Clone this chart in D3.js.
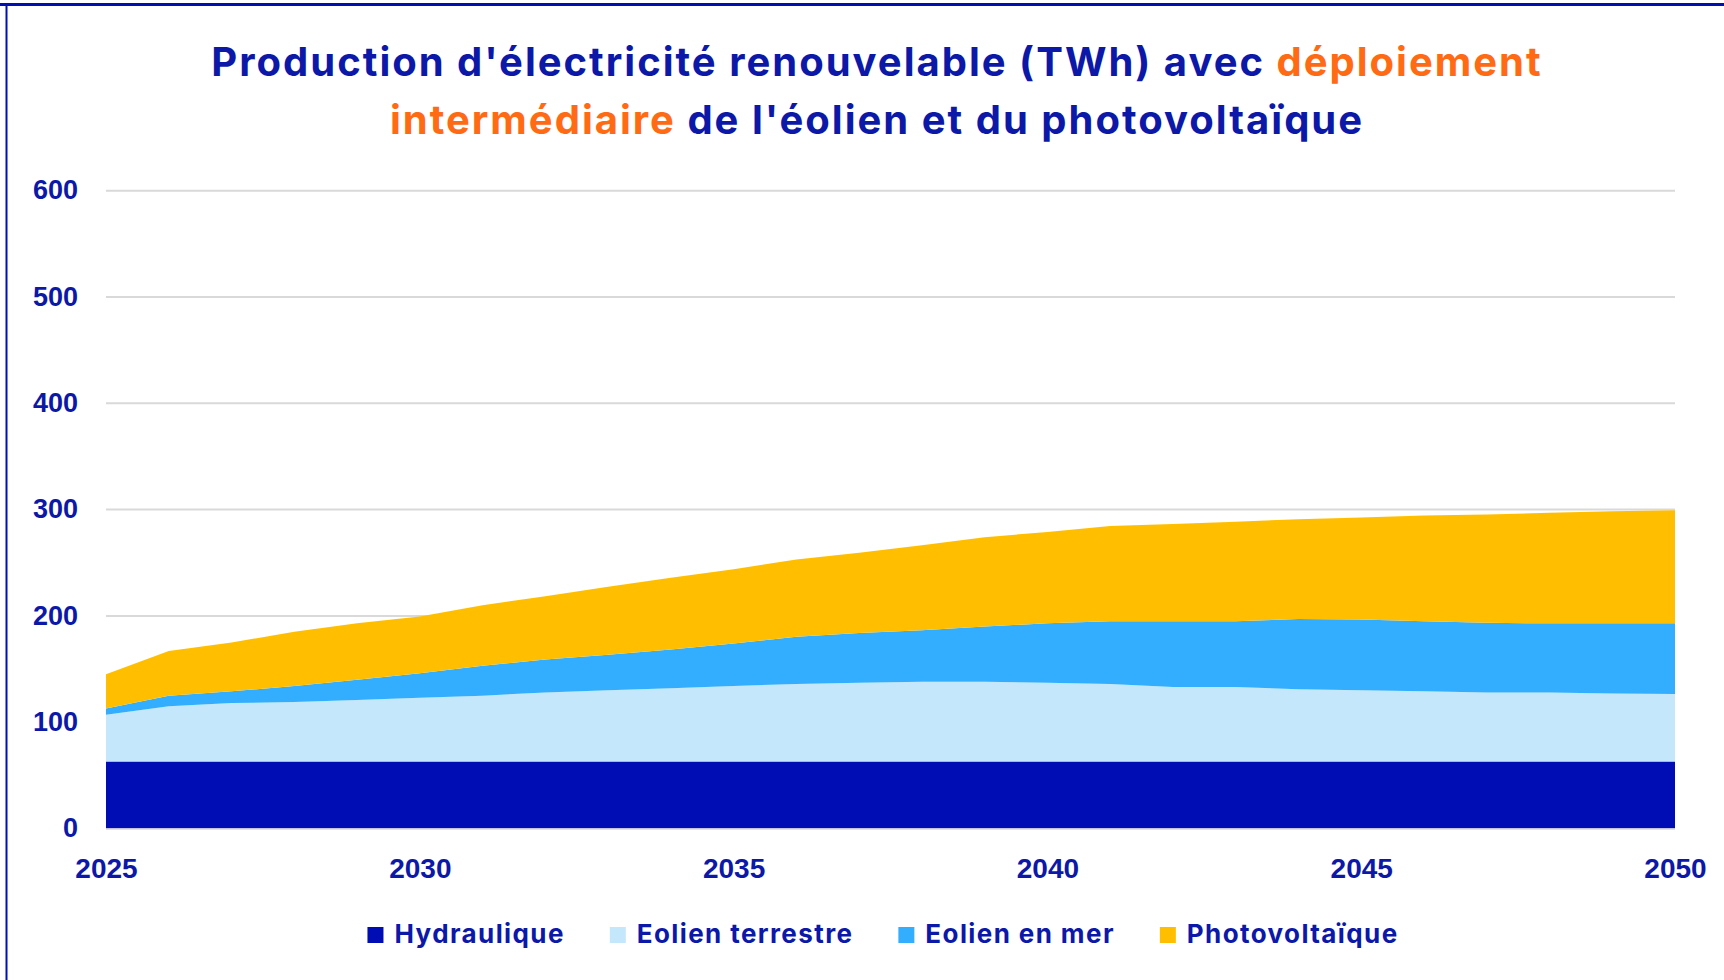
<!DOCTYPE html>
<html>
<head>
<meta charset="utf-8">
<script src="https://cdn.jsdelivr.net/npm/d3@7"></script>
<style>
  html, body { margin: 0; padding: 0; background: #fff; }
  svg { display: block; }
</style>
</head>
<body>
<svg id="chart" width="1724" height="980"></svg>
<script>
// données (TWh)
const years = d3.range(2025, 2051);
const hydraulique = [63,63,63,63,63,63,63,63,63,63,63,63,63,63,63,63,63,63,63,63,63,63,63,63,63,63];
const eolienTerrestre = [44,52,55,56,58,60,62,65,67,69,71,73,74,75,75,74,73,70,70,68,67,66,65,65,64,63.5];
const eolienMer = [6,10,11,15,19,23,28,31,33.5,36.5,40,44.5,47,48.5,52,56,59,62,62,66,66.5,66,65.5,65,66,66.5];
const photovoltaique = [32,42,46,51,53,53.5,57,59.5,64,67.5,70,72.5,75.5,80,84,86,89.5,91.5,93.5,94,96,99.5,102,104,105.5,106.5];

const seriesNames = ["Hydraulique", "Eolien terrestre", "Eolien en mer", "Photovoltaïque"];
const seriesColors = ["#000cb4", "#c5e7fc", "#33aeff", "#ffbf00"];
const yTicks = [0, 100, 200, 300, 400, 500, 600];
const xTicks = [2025, 2030, 2035, 2040, 2045, 2050];

const navy = "#0c18a8";
const orange = "#ff6a13";

const table = years.map((yr, i) => ({
  year: yr,
  "Hydraulique": hydraulique[i],
  "Eolien terrestre": eolienTerrestre[i],
  "Eolien en mer": eolienMer[i],
  "Photovoltaïque": photovoltaique[i]
}));

const svg = d3.select("#chart");

// cadre bleu
svg.append("line").attr("x1", 0).attr("x2", 1724).attr("y1", 4.5).attr("y2", 4.5)
  .attr("stroke", "#0010b0").attr("stroke-width", 3);
svg.append("line").attr("x1", 6.5).attr("x2", 6.5).attr("y1", 3).attr("y2", 980)
  .attr("stroke", "#0010b0").attr("stroke-width", 2);

const x = d3.scaleLinear().domain([2025, 2050]).range([106, 1675]);
const y = d3.scaleLinear().domain([0, 600]).range([828.5, 190.7]);

// titre
const title = svg.append("text")
  .attr("text-anchor", "middle")
  .attr("font-family", "Inter, 'Noto Sans', sans-serif")
  .attr("font-weight", 700)
  .attr("font-size", 40)
  .attr("letter-spacing", 2)
  .attr("fill", navy);
const l1 = title.append("tspan").attr("x", 877).attr("y", 76);
l1.append("tspan").text("Production d'électricité renouvelable (TWh) avec ");
l1.append("tspan").attr("fill", orange).text("déploiement");
const l2 = title.append("tspan").attr("x", 877).attr("y", 134);
l2.append("tspan").attr("fill", orange).text("intermédiaire");
l2.append("tspan").text(" de l'éolien et du photovoltaïque");

// grille
svg.append("g")
  .selectAll("line")
  .data(yTicks.filter(d => d > 0))
  .join("line")
  .attr("x1", x(2025)).attr("x2", x(2050))
  .attr("y1", d => y(d)).attr("y2", d => y(d))
  .attr("stroke", "#d9d9d9").attr("stroke-width", 2);

// aires empilées
const stack = d3.stack().keys(seriesNames);
const layers = stack(table);
const area = d3.area()
  .x(d => x(d.data.year))
  .y0(d => y(d[0]))
  .y1(d => y(d[1]));

svg.append("g")
  .selectAll("path")
  .data(layers)
  .join("path")
  .attr("d", area)
  .attr("fill", (d, i) => seriesColors[i]);

// ligne de base
svg.append("line")
  .attr("x1", x(2025)).attr("x2", x(2050))
  .attr("y1", y(0) + 0.5).attr("y2", y(0) + 0.5)
  .attr("stroke", "#d9d9d9").attr("stroke-width", 1.5);

// axe Y
const yAxis = svg.append("g")
  .attr("transform", "translate(78,0)")
  .call(d3.axisLeft(y).tickValues(yTicks).tickSize(0).tickPadding(0));
yAxis.select(".domain").remove();
yAxis.selectAll("text")
  .attr("font-family", "'Liberation Sans', Arial, sans-serif")
  .attr("font-weight", 700)
  .attr("font-size", 27)
  .attr("fill", navy)
  .attr("dy", "0.3em");

// axe X
const xAxis = svg.append("g")
  .attr("transform", "translate(0,858)")
  .call(d3.axisBottom(x).tickValues(xTicks).tickFormat(d3.format("d")).tickSize(0).tickPadding(0));
xAxis.select(".domain").remove();
xAxis.selectAll("text")
  .attr("font-family", "'Liberation Sans', Arial, sans-serif")
  .attr("font-weight", 700)
  .attr("font-size", 28)
  .attr("fill", navy)
  .attr("dy", "0.7em");

// légende
const legend = svg.append("g").attr("font-family", "Inter, 'Noto Sans', sans-serif")
  .attr("font-weight", 700).attr("font-size", 26).attr("letter-spacing", 1.4).attr("fill", navy);
const items = legend.selectAll("g").data(seriesNames).join("g");
items.append("rect").attr("width", 16).attr("height", 16).attr("y", 927)
  .attr("fill", (d, i) => seriesColors[i]);
items.append("text").attr("x", 27).attr("y", 943).text(d => d);
let cursor = 0;
const offsets = [];
items.each(function () {
  const w = 27 + d3.select(this).select("text").node().getComputedTextLength();
  offsets.push(cursor);
  cursor += w + 45;
});
const totalW = cursor - 45;
const startX = 883 - totalW / 2;
items.attr("transform", (d, i) => `translate(${startX + offsets[i]},0)`);
</script>
</body>
</html>
